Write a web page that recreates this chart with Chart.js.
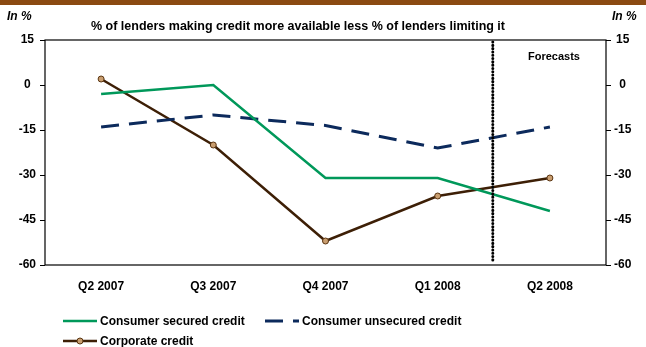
<!DOCTYPE html>
<html>
<head>
<meta charset="utf-8">
<script src="https://cdn.jsdelivr.net/npm/chart.js@4"></script>
<style>
  html, body { margin: 0; padding: 0; background: #fff; }
  #wrap { position: relative; width: 646px; height: 347px; }
</style>
</head>
<body>
<div id="wrap"><canvas id="canvas" width="646" height="347"></canvas></div>
<script>
const categories = ["Q2 2007", "Q3 2007", "Q4 2007", "Q1 2008", "Q2 2008"];
const consumerSecured = [-3, 0, -31, -31, -42];
const consumerUnsecured = [-14, -10, -13.5, -21, -14];
const corporate = [2, -20, -52, -37, -31];
const yTicks = [15, 0, -15, -30, -45, -60];
const titleText = "% of lenders making credit more available less % of lenders limiting it";
const forecastAfter = 3; // forecasts start between Q1 2008 and Q2 2008

const FONT = "'Liberation Sans', Arial, sans-serif";

const decorPlugin = {
    id: 'decor',
    beforeDraw(chart) {
        const ctx = chart.ctx;
        ctx.save();
        ctx.fillStyle = '#8b4a12';
        ctx.fillRect(0, 0, chart.width, 5);
        ctx.restore();
    },
    afterDatasetsDraw(chart) {
        const ctx = chart.ctx;
        const a = chart.chartArea;
        const xs = chart.scales.x;
        ctx.save();
        // box
        ctx.strokeStyle = '#000';
        ctx.lineWidth = 1.2;
        ctx.strokeRect(a.left, a.top, a.right - a.left, a.bottom - a.top);
        // forecast divider
        const xf = (xs.getPixelForValue(forecastAfter) + xs.getPixelForValue(forecastAfter + 1)) / 2;
        ctx.strokeStyle = '#000';
        ctx.lineWidth = 3;
        ctx.lineCap = 'round';
        ctx.setLineDash([0.1, 3.2]);
        ctx.beginPath();
        ctx.moveTo(xf - 1, a.top + 2);
        ctx.lineTo(xf - 1, a.bottom - 2);
        ctx.stroke();
        ctx.setLineDash([]);
        // texts
        ctx.fillStyle = '#000';
        ctx.textBaseline = 'middle';
        ctx.font = 'italic bold 12px ' + FONT;
        ctx.textAlign = 'left';
        ctx.fillText('In %', 7, 17);
        ctx.fillText('In %', 612, 17);
        ctx.font = 'bold 12.5px ' + FONT;
        ctx.textAlign = 'center';
        ctx.fillText(titleText, 298, 27);
        ctx.font = 'bold 11px ' + FONT;
        ctx.fillText('Forecasts', 554, 57);
        // legend
        const items = [
            {ds: 0, x: 63, y: 321},
            {ds: 1, x: 265, y: 321},
            {ds: 2, x: 63, y: 341}
        ];
        ctx.font = 'bold 12px ' + FONT;
        ctx.textAlign = 'left';
        items.forEach(it => {
            const d = chart.data.datasets[it.ds];
            ctx.strokeStyle = d.borderColor;
            ctx.lineWidth = d.borderWidth;
            ctx.lineCap = 'butt';
            ctx.setLineDash(d.borderDash || []);
            ctx.beginPath();
            ctx.moveTo(it.x, it.y);
            ctx.lineTo(it.x + 34, it.y);
            ctx.stroke();
            ctx.setLineDash([]);
            if (d.pointRadius > 0) {
                ctx.fillStyle = d.pointBackgroundColor;
                ctx.strokeStyle = d.pointBorderColor;
                ctx.lineWidth = 1;
                ctx.beginPath();
                ctx.arc(it.x + 17, it.y, d.pointRadius, 0, Math.PI * 2);
                ctx.fill();
                ctx.stroke();
            }
            ctx.fillStyle = '#000';
            ctx.fillText(d.label, it.x + 37, it.y + 1);
        });
        ctx.restore();
    }
};

const ctx = document.getElementById('canvas').getContext('2d');
const myChart = new Chart(ctx, {
    type: 'line',
    data: {
        labels: categories,
        datasets: [{
            label: 'Consumer secured credit',
            data: consumerSecured,
            borderColor: '#00985a',
            borderWidth: 2.5,
            pointRadius: 0,
            yAxisID: 'y'
        }, {
            label: 'Consumer unsecured credit',
            data: consumerUnsecured,
            borderColor: '#0c2a5c',
            borderWidth: 3,
            borderDash: [18, 10],
            pointRadius: 0,
            yAxisID: 'y'
        }, {
            label: 'Corporate credit',
            data: corporate,
            borderColor: '#3d1f06',
            borderWidth: 2.5,
            pointRadius: 3,
            pointBackgroundColor: '#c99e70',
            pointBorderColor: '#5a3410',
            pointBorderWidth: 1,
            yAxisID: 'y'
        }]
    },
    options: {
        responsive: false,
        animation: false,
        layout: { padding: { top: 40, left: 0, right: 0, bottom: 0 } },
        plugins: {
            legend: { display: false },
            tooltip: { enabled: false }
        },
        scales: {
            x: {
                offset: true,
                grid: { display: false },
                border: { display: false },
                ticks: {
                    color: '#000',
                    font: { family: FONT, size: 12, weight: 'bold' },
                    padding: 6,
                    maxRotation: 0
                },
                afterFit(s) { s.height = 82; }
            },
            y: {
                position: 'left',
                min: -60, max: 15,
                afterBuildTicks(s) { s.ticks = yTicks.map(v => ({ value: v })); },
                grid: { drawOnChartArea: false, drawTicks: true, tickLength: 5, color: '#000' },
                border: { display: false },
                ticks: {
                    color: '#000',
                    align: 'center',
                    crossAlign: 'center',
                    padding: 4,
                    font: { family: FONT, size: 12, weight: 'bold' }
                },
                afterFit(s) { s.width = 45; }
            },
            y2: {
                position: 'right',
                min: -60, max: 15,
                afterBuildTicks(s) { s.ticks = yTicks.map(v => ({ value: v })); },
                grid: { drawOnChartArea: false, drawTicks: true, tickLength: 5, color: '#000' },
                border: { display: false },
                ticks: {
                    color: '#000',
                    crossAlign: 'center',
                    padding: 3,
                    font: { family: FONT, size: 12, weight: 'bold' }
                },
                afterFit(s) { s.width = 40; }
            }
        }
    },
    plugins: [decorPlugin]
});
</script>
</body>
</html>
